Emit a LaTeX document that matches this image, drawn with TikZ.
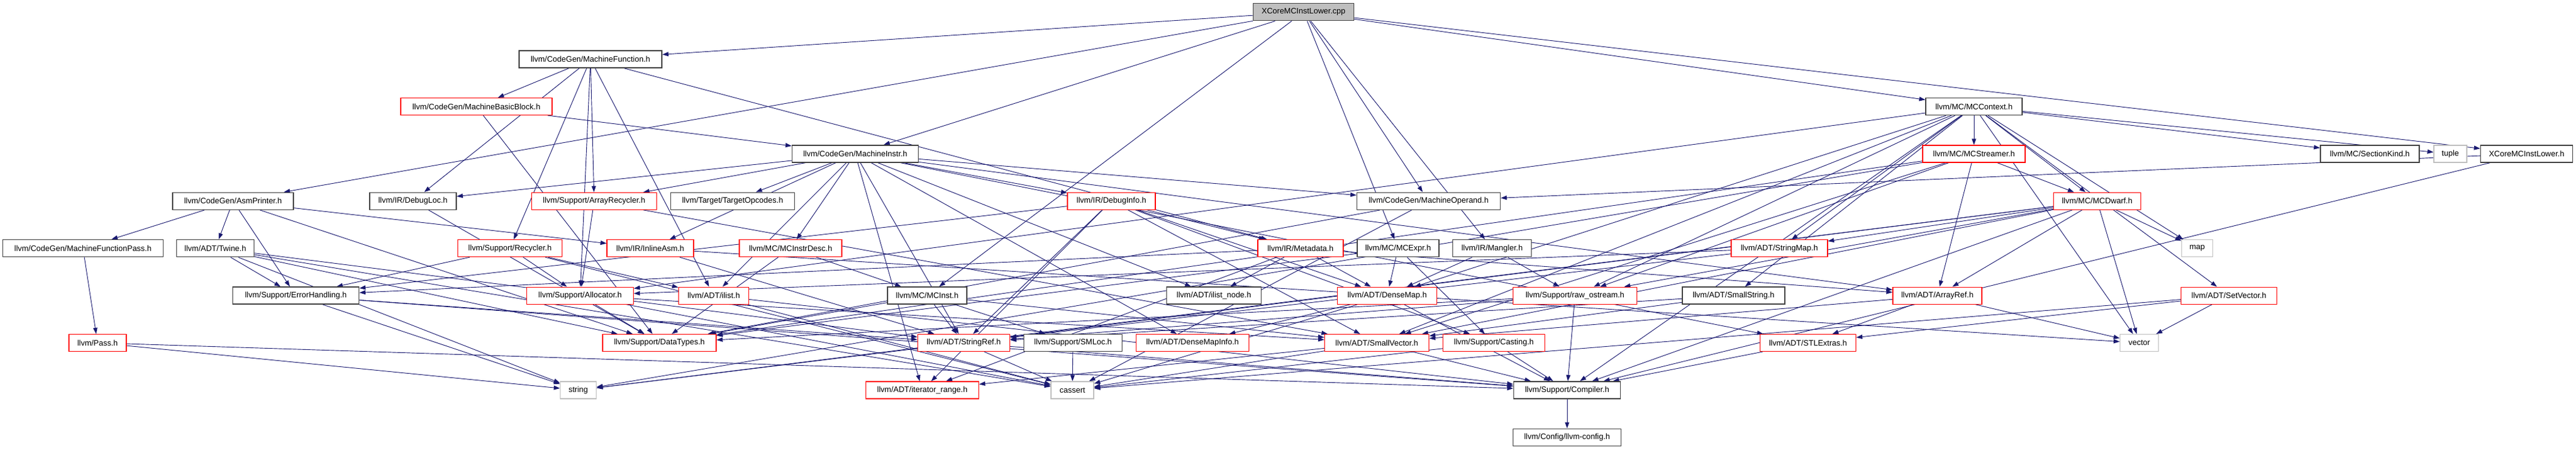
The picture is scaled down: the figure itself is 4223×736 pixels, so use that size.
\documentclass[tikz,border=0pt]{standalone}
\usepackage{fontspec}
\setmainfont{Liberation Sans}
\usetikzlibrary{arrows.meta}
\definecolor{dxblue}{RGB}{25,25,112}
\definecolor{dxdark}{RGB}{64,64,64}
\definecolor{dxgray}{RGB}{191,191,191}
\pgfdeclarelayer{edges}
\pgfsetlayers{edges,main}
\begin{document}
\begin{tikzpicture}[x=1pt,y=-1pt,
  box/.style={rectangle, fill=white, minimum height=28pt, inner sep=0pt, font=\fontsize{13}{15}\selectfont, text=black},
  blk/.style={box, draw=dxdark, line width=1.5pt},
  redb/.style={box, draw=red, line width=1.2pt},
  grayb/.style={box, draw=dxgray, line width=1.2pt},
  rootb/.style={box, draw=dxdark, fill=dxgray, line width=1.5pt},
  dep/.style={draw=dxblue, line width=0.9pt, -{Triangle[length=10pt,width=7pt]}, fill=dxblue}]
\useasboundingbox (0,0) rectangle (4223,736);
\def\rA{19.7}\def\rB{97.1}\def\rC{174.5}\def\rD{251.9}\def\rE{329.3}
\def\rF{406.7}\def\rG{484.1}\def\rH{561.5}\def\rI{638.9}\def\rJ{716.3}
% row A
\node[rootb, minimum width=165pt] (root) at (2137,\rA) {XCoreMCInstLower.cpp};
% row B
\node[blk, minimum width=234pt] (MF) at (968,\rB) {llvm/CodeGen/MachineFunction.h};
% row C
\node[redb, minimum width=248pt] (MBB) at (781,\rC) {llvm/CodeGen/MachineBasicBlock.h};
\node[blk, minimum width=158pt] (MCC) at (3236,\rC) {llvm/MC/MCContext.h};
% row D
\node[blk, minimum width=207pt] (MI) at (1402,\rD) {llvm/CodeGen/MachineInstr.h};
\node[redb, minimum width=168pt] (MCS) at (3236,\rD) {llvm/MC/MCStreamer.h};
\node[blk, minimum width=162pt] (SK) at (3885,\rD) {llvm/MC/SectionKind.h};
\node[grayb, minimum width=54pt] (ntuple) at (4017,\rD) {tuple};
\node[blk, minimum width=151pt] (XL) at (4142,\rD) {XCoreMCInstLower.h};
% row E
\node[blk, minimum width=198pt] (AP) at (382,\rE) {llvm/CodeGen/AsmPrinter.h};
\node[blk, minimum width=142pt] (DL) at (677,\rE) {llvm/IR/DebugLoc.h};
\node[redb, minimum width=205pt] (ARec) at (974,\rE) {llvm/Support/ArrayRecycler.h};
\node[blk, minimum width=203pt] (TO) at (1201,\rE) {llvm/Target/TargetOpcodes.h};
\node[redb, minimum width=144pt] (DI) at (1822,\rE) {llvm/IR/DebugInfo.h};
\node[blk, minimum width=235pt] (MO) at (2342,\rE) {llvm/CodeGen/MachineOperand.h};
\node[redb, minimum width=143pt] (MCD) at (3438,\rE) {llvm/MC/MCDwarf.h};
% row F
\node[blk, minimum width=263pt] (MFP) at (136,\rF) {llvm/CodeGen/MachineFunctionPass.h};
\node[blk, minimum width=127pt] (TW) at (353,\rF) {llvm/ADT/Twine.h};
\node[redb, minimum width=171pt] (REC) at (836,\rF) {llvm/Support/Recycler.h};
\node[redb, minimum width=142pt] (IA) at (1066,\rF) {llvm/IR/InlineAsm.h};
\node[redb, minimum width=168pt] (MID) at (1296,\rF) {llvm/MC/MCInstrDesc.h};
\node[redb, minimum width=140pt] (MD) at (2132,\rF) {llvm/IR/Metadata.h};
\node[blk, minimum width=134pt] (ME) at (2292,\rF) {llvm/MC/MCExpr.h};
\node[blk, minimum width=129pt] (MG) at (2446,\rF) {llvm/IR/Mangler.h};
\node[redb, minimum width=158pt] (SM) at (2917,\rF) {llvm/ADT/StringMap.h};
\node[grayb, minimum width=51pt] (nmap) at (3602,\rF) {map};
% row G
\node[blk, minimum width=207pt] (EH) at (485,\rG) {llvm/Support/ErrorHandling.h};
\node[redb, minimum width=175pt] (AL) at (951,\rG) {llvm/Support/Allocator.h};
\node[redb, minimum width=115pt] (IL) at (1170,\rG) {llvm/ADT/ilist.h};
\node[blk, minimum width=130pt] (MCI) at (1520,\rG) {llvm/MC/MCInst.h};
\node[blk, minimum width=155pt] (ILN) at (1990,\rG) {llvm/ADT/ilist\_node.h};
\node[redb, minimum width=163pt] (DM) at (2274,\rG) {llvm/ADT/DenseMap.h};
\node[redb, minimum width=203pt] (RO) at (2582,\rG) {llvm/Support/raw\_ostream.h};
\node[blk, minimum width=168pt] (SS) at (2842,\rG) {llvm/ADT/SmallString.h};
\node[redb, minimum width=146pt] (ARF) at (3176,\rG) {llvm/ADT/ArrayRef.h};
\node[redb, minimum width=157pt] (SV) at (3654,\rG) {llvm/ADT/SetVector.h};
% row H
\node[redb, minimum width=94pt] (PASS) at (160,\rH) {llvm/Pass.h};
\node[redb, minimum width=186pt] (DT) at (1081,\rH) {llvm/Support/DataTypes.h};
\node[redb, minimum width=151pt] (SR) at (1580,\rH) {llvm/ADT/StringRef.h};
\node[blk, minimum width=161pt] (SML) at (1759,\rH) {llvm/Support/SMLoc.h};
\node[redb, minimum width=185pt] (DMI) at (1955,\rH) {llvm/ADT/DenseMapInfo.h};
\node[redb, minimum width=171pt] (SVEC) at (2257,\rH) {llvm/ADT/SmallVector.h};
\node[redb, minimum width=167pt] (CAST) at (2449,\rH) {llvm/Support/Casting.h};
\node[redb, minimum width=157pt] (STL) at (2964,\rH) {llvm/ADT/STLExtras.h};
\node[grayb, minimum width=63pt] (nvector) at (3507,\rH) {vector};
% row I
\node[grayb, minimum width=59pt] (nstring) at (948,\rI) {string};
\node[redb, minimum width=185pt] (IR) at (1512,\rI) {llvm/ADT/iterator\_range.h};
\node[grayb, minimum width=70pt] (ncassert) at (1758,\rI) {cassert};
\node[blk, minimum width=175pt] (COMP) at (2569,\rI) {llvm/Support/Compiler.h};
% row J
\node[blk, minimum width=177pt] (CFG) at (2569,\rJ) {llvm/Config/llvm-config.h};

\begin{pgfonlayer}{edges}
\foreach \a/\b in {
 root/XL, root/AP, root/MF, root/MI, root/MO, root/MG, root/MCC, root/ME, root/MCI,
 MF/DL, MF/MBB, MF/REC, MF/ARec, MF/MD, MF/IL, MF/AL,
 MBB/MI, MBB/DT,
 MI/ARF, MI/DMI, MI/STL, MI/SR, MI/IL, MI/ILN, MI/IR, MI/MO, MI/DI, MI/DL, MI/IA, MI/MID, MI/ARec, MI/TO,
 MO/DT, MO/ncassert,
 XL/MO, XL/COMP,
 AP/MFP, AP/TW, AP/EH, AP/IA, AP/DT,
 MFP/PASS,
 PASS/nstring, PASS/COMP,
 TW/EH, TW/SR, TW/DT, TW/ncassert, TW/nstring,
 EH/SR, EH/COMP, EH/nstring,
 DI/SR, DI/MD, DI/DM, DI/SVEC, DI/CAST, DI/IR, DI/EH,
 DL/DT,
 ARec/AL, ARec/SVEC,
 REC/AL, REC/EH, REC/ncassert, REC/IL,
 IA/SR, IA/nvector,
 MID/MCI, MID/DT,
 MD/ILN, MD/DM, MD/IR, MD/EH, MD/ARF,
 ME/DM, ME/CAST, ME/DT,
 MG/DM, MG/RO,
 MCI/SR, MCI/DT, MCI/SVEC, MCI/SML,
 SM/AL, SM/SR,
 MCC/MCS, MCC/MCD, MCC/nmap, MCC/nvector, MCC/SV, MCC/SK, MCC/ntuple, MCC/SM, MCC/SS, MCC/RO, MCC/DM, MCC/AL, MCC/COMP, MCC/SVEC,
 MCS/ARF, MCS/MCD, MCS/SVEC, MCS/DT, MCS/RO, MCS/nstring,
 MCD/nmap, MCD/nvector, MCD/ARF, MCD/SM, MCD/RO, MCD/SVEC, MCD/COMP, MCD/SR, MCD/nstring,
 SV/nvector, SV/STL, SV/ncassert,
 ARF/nvector, ARF/STL, ARF/SVEC,
 SS/SVEC, SS/SR,
 RO/COMP, RO/SR, RO/DT,
 DM/DMI, DM/ncassert, DM/COMP,
 IL/COMP, IL/ncassert,
 AL/DT, AL/ncassert, AL/SVEC,
 SR/ncassert, SR/nstring, SR/COMP,
 SML/ncassert,
 SVEC/COMP, SVEC/ncassert, SVEC/IR,
 CAST/COMP, CAST/ncassert,
 STL/COMP,
 COMP/CFG}
 \draw[dep] (\a) -- (\b);
\end{pgfonlayer}
\end{tikzpicture}
\end{document}
